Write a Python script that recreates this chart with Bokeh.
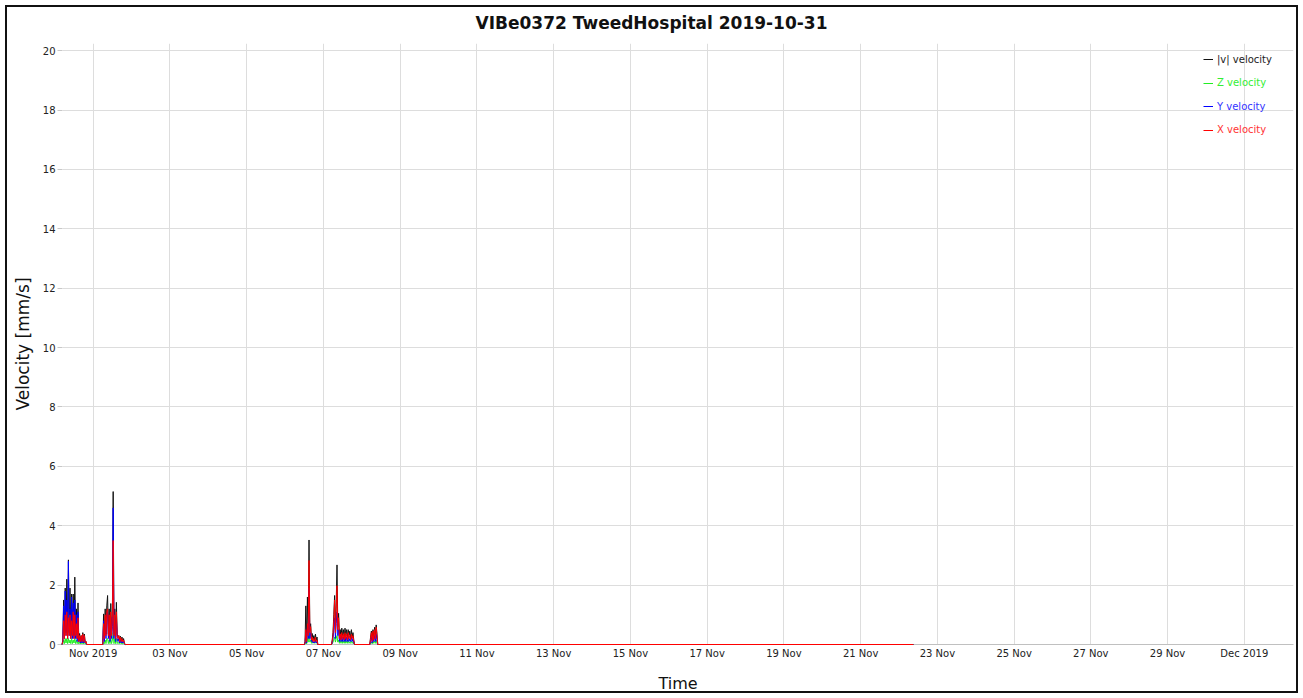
import pandas as pd
from bokeh.plotting import figure
from bokeh.models import Range1d, Legend, LegendItem, FixedTicker
from bokeh.embed import file_html
from bokeh.resources import INLINE

title_text = "VIBe0372 TweedHospital 2019-10-31"
x_label = "Time"
y_label = "Velocity [mm/s]"

burst_starts = ["2019-10-31 05:00", "2019-11-01 06:30", "2019-11-06 12:30",
                "2019-11-07 05:30", "2019-11-08 05:30"]
data_end = "2019-11-22 09:00"

x_vel = [
    [0.1, 0.8, 0.2, 1.0, 0.3, 1.1, 0.2, 0.9, 0.3, 1.0, 0.2, 0.8, 0.3, 1.1, 0.2, 1.0, 0.3, 0.7, 0.2, 0.9,
     0.1, 0.3, 0.1, 0.3, 0.1, 0.35, 0.1, 0.3, 0.05, 0.1],
    [0.7, 0.2, 1.0, 0.3, 1.1, 1.2, 0.3, 1.0, 0.2, 1.1, 0.3, 0.9, 3.5, 0.3, 1.0, 0.2, 1.1, 0.3, 0.2, 0.3,
     0.1, 0.25, 0.1, 0.2, 0.1, 0.15, 0.05],
    [0.05, 0.5, 0.1, 0.7, 0.3, 2.83, 0.4, 0.6, 0.15, 0.25, 0.1, 0.2, 0.1, 0.25, 0.1, 0.15],
    [0.1, 0.3, 0.8, 1.5, 0.4, 1.2, 1.98, 0.5, 0.9, 0.2, 0.35, 0.15, 0.4, 0.2, 0.35, 0.15, 0.4, 0.2, 0.35, 0.15,
     0.4, 0.2, 0.3, 0.15, 0.35, 0.2, 0.3, 0.1],
    [0.2, 0.4, 0.1, 0.45, 0.15, 0.5, 0.2, 0.58, 0.3],
]
y_vel = [
    [0.1, 1.3, 0.2, 1.8, 0.3, 1.5, 0.2, 2.8, 0.3, 1.2, 0.2, 1.6, 0.2, 1.4, 0.2, 1.5, 0.2, 1.0, 0.1, 1.1,
     0.1, 0.25, 0.05, 0.2, 0.05, 0.3, 0.05, 0.2, 0.05, 0.05],
    [0.8, 0.1, 0.7, 0.2, 0.9, 1.1, 0.2, 0.8, 0.1, 0.9, 0.2, 0.6, 4.6, 0.2, 0.7, 0.1, 0.9, 0.2, 0.1, 0.2,
     0.05, 0.15, 0.05, 0.1, 0.05, 0.1, 0.02],
    [0.02, 0.4, 0.05, 0.6, 0.2, 1.9, 0.2, 0.4, 0.1, 0.15, 0.05, 0.1, 0.05, 0.15, 0.05, 0.1],
    [0.05, 0.2, 0.5, 0.9, 0.2, 0.7, 1.1, 0.3, 0.5, 0.1, 0.25, 0.1, 0.3, 0.1, 0.25, 0.1, 0.3, 0.1, 0.25, 0.1,
     0.3, 0.1, 0.2, 0.1, 0.25, 0.1, 0.2, 0.05],
    [0.1, 0.25, 0.05, 0.3, 0.1, 0.3, 0.1, 0.35, 0.15],
]
z_vel = [
    [0.03, 0.15, 0.03, 0.2, 0.05, 0.2, 0.03, 0.2, 0.05, 0.15, 0.03, 0.2, 0.03, 0.15, 0.05, 0.2, 0.03, 0.15, 0.03, 0.1,
     0.02, 0.08, 0.02, 0.08, 0.02, 0.1, 0.02, 0.08, 0.02, 0.02],
    [0.08, 0.03, 0.15, 0.03, 0.2, 0.2, 0.03, 0.15, 0.03, 0.2, 0.03, 0.15, 0.4, 0.03, 0.2, 0.03, 0.2, 0.03, 0.08, 0.03,
     0.03, 0.08, 0.02, 0.06, 0.02, 0.04, 0.02],
    [0.02, 0.15, 0.02, 0.2, 0.08, 0.5, 0.08, 0.15, 0.04, 0.2, 0.04, 0.08, 0.04, 0.15, 0.04, 0.08],
    [0.02, 0.08, 0.15, 0.25, 0.08, 0.2, 0.3, 0.08, 0.15, 0.04, 0.12, 0.04, 0.15, 0.04, 0.12, 0.04, 0.15, 0.04, 0.12, 0.04,
     0.15, 0.04, 0.08, 0.04, 0.12, 0.04, 0.08, 0.02],
    [0.04, 0.08, 0.02, 0.12, 0.04, 0.12, 0.04, 0.15, 0.04],
]
v_vel = [
    [0.15, 1.5, 0.3, 1.9, 0.4, 2.2, 0.3, 2.85, 0.4, 1.9, 0.3, 1.7, 0.35, 1.7, 0.3, 2.27, 0.35, 1.2, 0.2, 1.4,
     0.1, 0.37, 0.1, 0.3, 0.1, 0.4, 0.1, 0.35, 0.05, 0.1],
    [1.03, 0.25, 1.2, 0.35, 1.3, 1.65, 0.35, 1.2, 0.25, 1.38, 0.35, 1.0, 5.15, 0.35, 1.2, 0.25, 1.42, 0.35, 0.25, 0.3,
     0.15, 0.28, 0.1, 0.25, 0.1, 0.2, 0.05],
    [0.1, 1.3, 0.15, 1.6, 0.4, 3.52, 0.45, 0.7, 0.2, 0.37, 0.15, 0.3, 0.15, 0.35, 0.15, 0.25],
    [0.15, 0.4, 1.0, 1.65, 0.5, 1.4, 2.68, 0.6, 1.05, 0.3, 0.5, 0.25, 0.55, 0.3, 0.5, 0.25, 0.55, 0.3, 0.5, 0.25,
     0.5, 0.3, 0.45, 0.2, 0.5, 0.25, 0.4, 0.15],
    [0.25, 0.45, 0.15, 0.5, 0.2, 0.58, 0.25, 0.66, 0.35],
]

tick_dates = ["2019-11-01", "2019-11-03", "2019-11-05", "2019-11-07", "2019-11-09", "2019-11-11",
              "2019-11-13", "2019-11-15", "2019-11-17", "2019-11-19", "2019-11-21", "2019-11-23",
              "2019-11-25", "2019-11-27", "2019-11-29", "2019-12-01"]
tick_labels = ["Nov 2019", "03 Nov", "05 Nov", "07 Nov", "09 Nov", "11 Nov", "13 Nov", "15 Nov",
               "17 Nov", "19 Nov", "21 Nov", "23 Nov", "25 Nov", "27 Nov", "29 Nov", "Dec 2019"]
y_ticks = [0, 2, 4, 6, 8, 10, 12, 14, 16, 18, 20]

series_names = ["|v| velocity", "Z velocity", "Y velocity", "X velocity"]
series_colors = ["#111111", "#22ee22", "#0000ff", "#ff0000"]
legend_text_colors = ["#222222", "#33ee33", "#3333ff", "#ff3333"]

x_start = pd.Timestamp("2019-10-31 04:48")
x_end = pd.Timestamp("2019-12-02 06:46")

step = pd.Timedelta("30min")
times = []
cols = {k: [] for k in range(4)}
all_series = [v_vel, z_vel, y_vel, x_vel]
for b, st in enumerate(burst_starts):
    t0 = pd.Timestamp(st)
    n = len(x_vel[b])
    times.append(t0 - step)
    for k in range(4):
        cols[k].append(0.0)
    for i in range(n):
        times.append(t0 + i * step)
        for k in range(4):
            cols[k].append(all_series[k][b][i])
    times.append(t0 + n * step)
    for k in range(4):
        cols[k].append(0.0)
times.append(pd.Timestamp(data_end))
for k in range(4):
    cols[k].append(0.0)

p = figure(width=1303, height=698, x_axis_type="datetime",
           x_range=Range1d(x_start, x_end), y_range=Range1d(0, 20.24),
           output_backend="svg", toolbar_location=None,
           min_border_left=62, min_border_right=10, min_border_top=43, min_border_bottom=54,
           title=title_text)
p.outline_line_color = None
p.background_fill_color = "white"
p.border_fill_color = None
p.styles = {"background-color": "white",
            "box-shadow": "inset 0 0 0 5px white, inset 0 0 0 7px #111111"}

p.title.text_font = "DejaVu Sans"
p.title.text_font_size = "17px"
p.title.text_font_style = "bold"
p.title.align = "left"
p.title.offset = 413
p.title.standoff = 21
p.title.text_color = "#111111"

renderers = []
for k in range(4):
    r = p.line(times, cols[k], line_color=series_colors[k], line_width=1, level="overlay")
    renderers.append(r)

tick_ms = [pd.Timestamp(d).value / 1e6 for d in tick_dates]
p.xaxis.ticker = FixedTicker(ticks=tick_ms)
p.xgrid.ticker = FixedTicker(ticks=tick_ms)
p.xaxis.major_label_overrides = {t: lab for t, lab in zip(tick_ms, tick_labels)}
p.yaxis.ticker = FixedTicker(ticks=y_ticks)
p.ygrid.ticker = FixedTicker(ticks=y_ticks)

for ax in (p.xaxis, p.yaxis):
    ax.major_label_text_font = "DejaVu Sans"
    ax.major_label_text_font_size = "10px"
    ax.major_label_text_color = "#222222"
    ax.axis_label_text_font = "DejaVu Sans"
    ax.axis_label_text_font_style = "normal"
    ax.axis_label_text_color = "#111111"
    ax.minor_tick_line_color = None

p.xaxis.axis_label = x_label
p.xaxis.axis_label_text_font_size = "16px"
p.xaxis.axis_line_color = "#c0c0c0"
p.xaxis.major_tick_line_color = None
p.xaxis.major_tick_out = 0
p.xaxis.major_tick_in = 0
p.xaxis.major_label_standoff = 3
p.xaxis.axis_label_standoff = 12

p.yaxis.axis_label = y_label
p.yaxis.axis_label_text_font_size = "17px"
p.yaxis.axis_line_color = None
p.yaxis.major_tick_line_color = "#c8c8c8"
p.yaxis.major_tick_out = 5
p.yaxis.major_tick_in = 0
p.yaxis.major_label_standoff = 2
p.yaxis.axis_label_standoff = 7

p.xgrid.grid_line_color = "#dddddd"
p.ygrid.grid_line_color = "#dddddd"

for k in range(4):
    leg = Legend(items=[LegendItem(label=series_names[k], renderers=[renderers[k]])],
                 location=(1141, 575 - k * 23.5),
                 padding=0, margin=0, spacing=0,
                 glyph_width=10, glyph_height=20, label_height=20, label_standoff=4,
                 label_text_font="DejaVu Sans", label_text_font_size="10px",
                 label_text_color=legend_text_colors[k],
                 border_line_color=None, background_fill_alpha=0)
    p.add_layout(leg)

open("out.html", "w").write(file_html(p, INLINE))
